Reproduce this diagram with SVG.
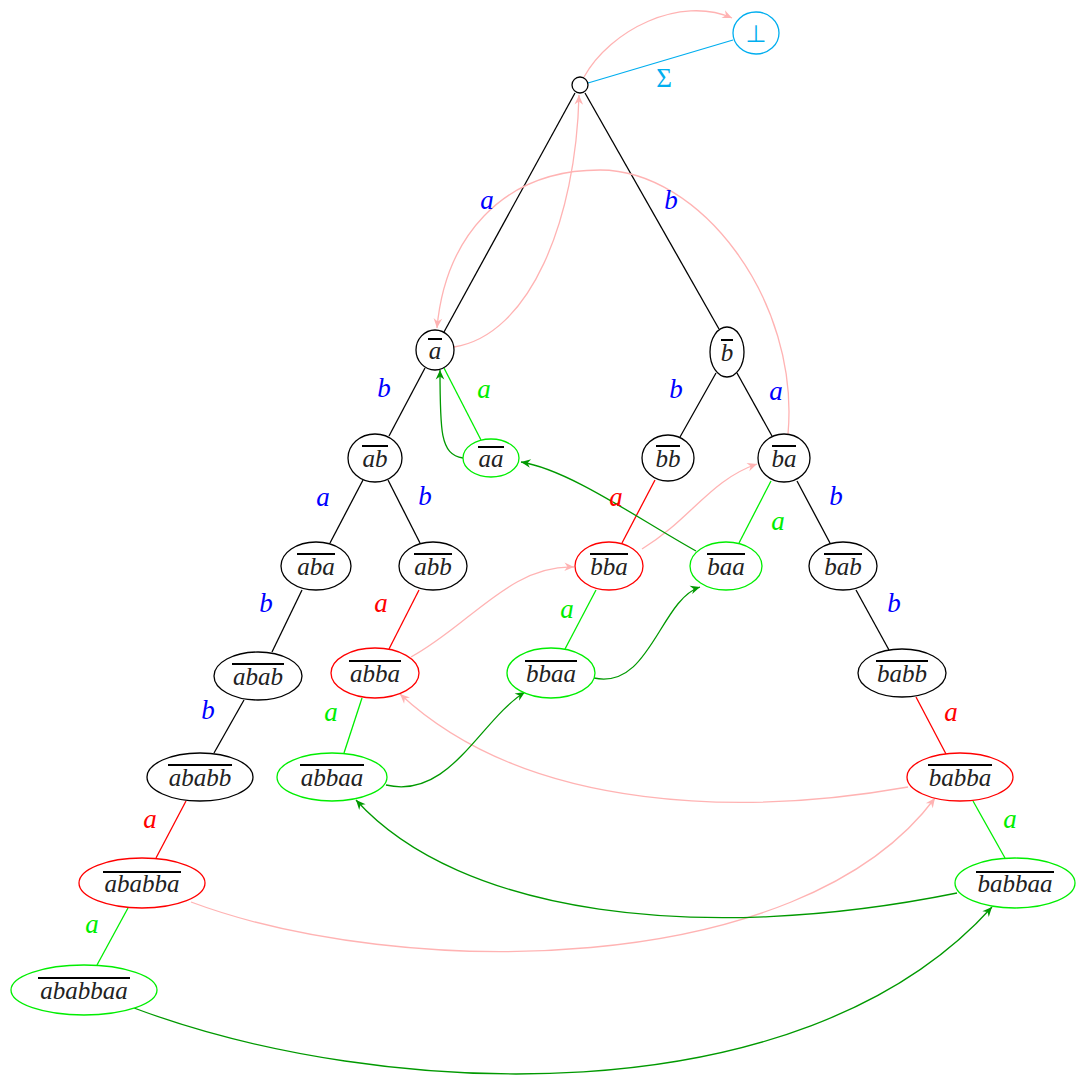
<svg xmlns="http://www.w3.org/2000/svg" width="1076" height="1075" viewBox="0 0 1076 1075">
<defs>
<marker id="ap" markerUnits="userSpaceOnUse" markerWidth="12" markerHeight="12" refX="0" refY="0" viewBox="-9 -5 10 10" orient="auto"><path d="M0,0 L-8,-3.6 L-5.5,0 L-8,3.6 Z" fill="#ffb3b3"/></marker>
<marker id="ag" markerUnits="userSpaceOnUse" markerWidth="12" markerHeight="12" refX="0" refY="0" viewBox="-9 -5 10 10" orient="auto"><path d="M0,0 L-8,-3.6 L-5.5,0 L-8,3.6 Z" fill="#009900"/></marker>
</defs>
<style>
.n{fill:#fff;stroke-width:1.3}
.k{stroke:#000}.r{stroke:#ff0000}.g{stroke:#00ee00}.c{stroke:#00aeef}
.t{font-family:"Liberation Serif","DejaVu Serif",serif;font-style:italic;font-size:25px;fill:#222;text-anchor:middle}
.o{stroke:#000;stroke-width:2}
.l{font-family:"Liberation Serif","DejaVu Serif",serif;font-style:italic;font-size:27px;text-anchor:middle}
.lb{fill:#0000ff}.lr{fill:#ff0000}.lg{fill:#00ee00}
.e{fill:none;stroke-width:1.3}
.pk{fill:none;stroke:#ffb3b3;stroke-width:1.3;marker-end:url(#ap)}
.dg{fill:none;stroke:#009900;stroke-width:1.3;marker-end:url(#ag)}
</style>
<rect width="1076" height="1075" fill="#fff"/>
<g id="connectors">
<line class="e c" x1="588" y1="83" x2="733" y2="40"/>
<line class="e k" x1="575" y1="93" x2="444" y2="332"/>
<line class="e k" x1="585" y1="93" x2="719" y2="329"/>
<line class="e k" x1="425" y1="368" x2="389" y2="436"/>
<line class="e g" x1="444" y1="368" x2="481" y2="440"/>
<line class="e k" x1="716" y1="373" x2="680" y2="437"/>
<line class="e k" x1="737" y1="373" x2="772" y2="436"/>
<line class="e k" x1="363" y1="480" x2="330" y2="543"/>
<line class="e k" x1="388" y1="480" x2="420" y2="543"/>
<line class="e r" x1="655" y1="480" x2="622" y2="543"/>
<line class="e g" x1="771" y1="481" x2="739" y2="543"/>
<line class="e k" x1="797" y1="481" x2="830" y2="543"/>
<line class="e k" x1="302" y1="590" x2="272" y2="652"/>
<line class="e r" x1="419" y1="590" x2="389" y2="649"/>
<line class="e g" x1="596" y1="590" x2="565" y2="649"/>
<line class="e k" x1="856" y1="590" x2="889" y2="650"/>
<line class="e k" x1="244" y1="700" x2="214" y2="753"/>
<line class="e g" x1="362" y1="698" x2="344" y2="753"/>
<line class="e r" x1="916" y1="697" x2="946" y2="754"/>
<line class="e r" x1="186" y1="801" x2="156" y2="858"/>
<line class="e g" x1="973" y1="801" x2="1005" y2="858"/>
<line class="e g" x1="128" y1="908" x2="97" y2="965"/>
<path class="pk" d="M584 77 C610 30 680 -5 732 18"/>
<path class="pk" d="M454 347 C530 335 576 220 579 95"/>
<path class="pk" d="M788 434 C800 300 700 170 600 170 C500 170 445 240 437 328"/>
<path class="pk" d="M642 549 C690 520 710 480 757 464"/>
<path class="pk" d="M411 657 C470 625 510 565 574 567"/>
<path class="pk" d="M908 787 C750 815 530 815 400 694"/>
<path class="pk" d="M191 902 C400 980 800 980 935 798"/>
<path class="dg" d="M463 458 C440 455 440 430 440 370"/>
<path class="dg" d="M696 551 C640 520 570 470 521 462"/>
<path class="dg" d="M594 678 C650 690 660 600 700 587"/>
<path class="dg" d="M386 785 C450 800 480 720 525 692"/>
<path class="dg" d="M957 893 C700 945 460 915 356 800"/>
<path class="dg" d="M134 1008 C380 1100 800 1120 992 907"/>
</g>
<g id="labels">
<text class="l" x="664" y="87" style="font-style:normal;fill:#00aeef">Σ</text>
<text class="l lb" x="487" y="209">a</text>
<text class="l lb" x="671" y="209">b</text>
<text class="l lb" x="384" y="397">b</text>
<text class="l lg" x="484" y="398">a</text>
<text class="l lb" x="676" y="398">b</text>
<text class="l lb" x="776" y="400">a</text>
<text class="l lb" x="323" y="506">a</text>
<text class="l lb" x="425" y="505">b</text>
<text class="l lr" x="616" y="506">a</text>
<text class="l lb" x="836" y="505">b</text>
<text class="l lg" x="778" y="530">a</text>
<text class="l lb" x="266" y="612">b</text>
<text class="l lr" x="381" y="612">a</text>
<text class="l lg" x="567" y="618">a</text>
<text class="l lb" x="894" y="612">b</text>
<text class="l lb" x="208" y="719">b</text>
<text class="l lg" x="331" y="721">a</text>
<text class="l lr" x="951" y="721">a</text>
<text class="l lr" x="150" y="828">a</text>
<text class="l lg" x="1010" y="828">a</text>
<text class="l lg" x="92" y="933">a</text>
</g>
<g id="root"><circle class="n k" cx="580" cy="85" r="8"/></g>
<g id="bot"><ellipse class="n c" cx="756" cy="33" rx="23" ry="21"/><text x="756" y="42" style="font-family:'DejaVu Sans',sans-serif;font-size:24px;fill:#00aeef;text-anchor:middle">⊥</text></g>
<g id="n_a"><ellipse class="n k" cx="435" cy="350" rx="19" ry="20"/><text class="t" x="435" y="359">a</text><line class="o" x1="428" y1="339" x2="442" y2="339"/></g>
<g id="n_b"><ellipse class="n k" cx="727" cy="352" rx="17" ry="25"/><text class="t" x="727" y="361">b</text><line class="o" x1="721" y1="340" x2="733" y2="340"/></g>
<g id="n_ab"><ellipse class="n k" cx="375" cy="458" rx="27" ry="24"/><text class="t" x="375" y="467">ab</text><line class="o" x1="362" y1="446" x2="388" y2="446"/></g>
<g id="n_aa"><ellipse class="n g" cx="491" cy="458" rx="28" ry="19"/><text class="t" x="491" y="467">aa</text><line class="o" x1="478" y1="447" x2="504" y2="447"/></g>
<g id="n_bb"><ellipse class="n k" cx="668" cy="458" rx="26" ry="23"/><text class="t" x="668" y="467">bb</text><line class="o" x1="656" y1="446" x2="680" y2="446"/></g>
<g id="n_ba"><ellipse class="n k" cx="784" cy="458" rx="26" ry="24"/><text class="t" x="784" y="467">ba</text><line class="o" x1="772" y1="446" x2="796" y2="446"/></g>
<g id="n_aba"><ellipse class="n k" cx="316" cy="566" rx="35" ry="24"/><text class="t" x="316" y="575">aba</text><line class="o" x1="297" y1="554" x2="335" y2="554"/></g>
<g id="n_abb"><ellipse class="n k" cx="433" cy="566" rx="34" ry="24"/><text class="t" x="433" y="575">abb</text><line class="o" x1="414" y1="554" x2="452" y2="554"/></g>
<g id="n_bba"><ellipse class="n r" cx="609" cy="566" rx="34" ry="24"/><text class="t" x="609" y="575">bba</text><line class="o" x1="590" y1="554" x2="628" y2="554"/></g>
<g id="n_baa"><ellipse class="n g" cx="726" cy="566" rx="36" ry="24"/><text class="t" x="726" y="575">baa</text><line class="o" x1="707" y1="554" x2="745" y2="554"/></g>
<g id="n_bab"><ellipse class="n k" cx="843" cy="566" rx="34" ry="24"/><text class="t" x="843" y="575">bab</text><line class="o" x1="824" y1="554" x2="862" y2="554"/></g>
<g id="n_abab"><ellipse class="n k" cx="258" cy="676" rx="44" ry="24"/><text class="t" x="258" y="685">abab</text><line class="o" x1="232" y1="664" x2="284" y2="664"/></g>
<g id="n_abba"><ellipse class="n r" cx="375" cy="673" rx="44" ry="25"/><text class="t" x="375" y="682">abba</text><line class="o" x1="349" y1="661" x2="401" y2="661"/></g>
<g id="n_bbaa"><ellipse class="n g" cx="551" cy="673" rx="44" ry="25"/><text class="t" x="551" y="682">bbaa</text><line class="o" x1="525" y1="661" x2="577" y2="661"/></g>
<g id="n_babb"><ellipse class="n k" cx="902" cy="673" rx="44" ry="24"/><text class="t" x="902" y="682">babb</text><line class="o" x1="876" y1="661" x2="928" y2="661"/></g>
<g id="n_ababb"><ellipse class="n k" cx="200" cy="777" rx="53" ry="24"/><text class="t" x="200" y="786">ababb</text><line class="o" x1="168" y1="765" x2="232" y2="765"/></g>
<g id="n_abbaa"><ellipse class="n g" cx="332" cy="777" rx="55" ry="24"/><text class="t" x="332" y="786">abbaa</text><line class="o" x1="300" y1="765" x2="364" y2="765"/></g>
<g id="n_babba"><ellipse class="n r" cx="960" cy="777" rx="53" ry="24"/><text class="t" x="960" y="786">babba</text><line class="o" x1="928" y1="765" x2="992" y2="765"/></g>
<g id="n_ababba"><ellipse class="n r" cx="142" cy="883" rx="63" ry="25"/><text class="t" x="142" y="892">ababba</text><line class="o" x1="103" y1="872" x2="181" y2="872"/></g>
<g id="n_babbaa"><ellipse class="n g" cx="1015" cy="883" rx="60" ry="25"/><text class="t" x="1015" y="892">babbaa</text><line class="o" x1="976" y1="872" x2="1054" y2="872"/></g>
<g id="n_ababbaa"><ellipse class="n g" cx="84" cy="990" rx="73" ry="25"/><text class="t" x="84" y="999">ababbaa</text><line class="o" x1="38" y1="978" x2="130" y2="978"/></g>
</svg>
